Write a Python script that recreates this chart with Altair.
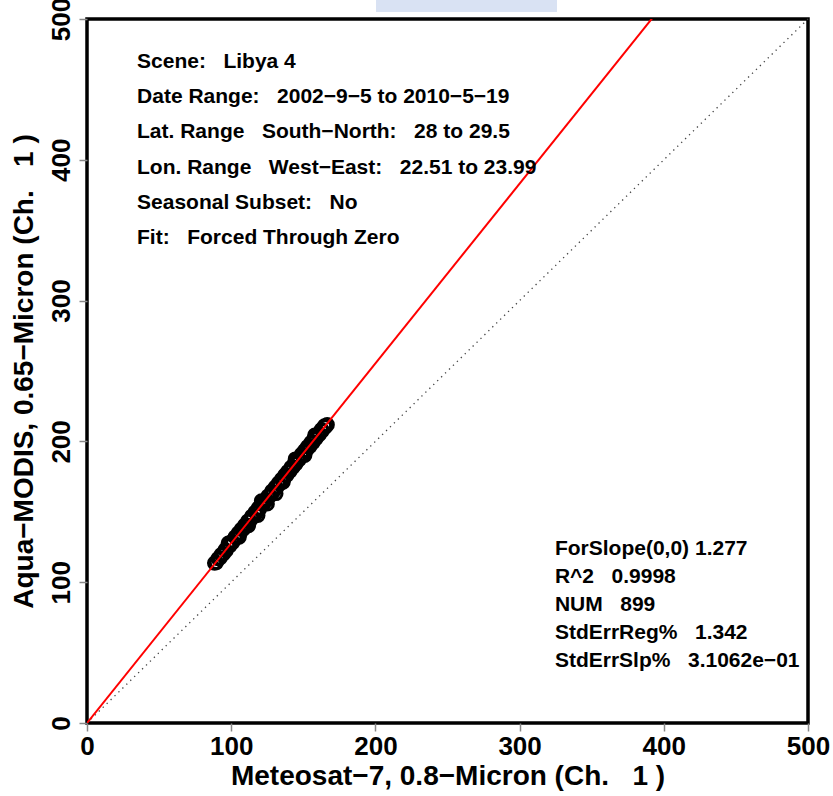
import altair as alt
import pandas as pd

# ---- data ----
meteosat = [88.5, 89.7, 90.9, 92.3, 93.1, 94.6, 95.8, 96.4, 97.9, 99.2, 100.4, 101.1,
            102.8, 103.5, 104.9, 106.2, 107.0, 108.6, 109.3, 110.8, 111.5, 112.9,
            114.2, 115.0, 116.7, 117.3, 118.8, 119.6, 121.1, 122.4, 123.0, 124.7,
            125.5, 126.9, 128.2, 129.0, 130.6, 131.4, 132.8, 133.5, 134.9, 136.3,
            137.1, 138.6, 139.2, 140.8, 141.5, 142.9, 144.1, 145.0, 146.6, 147.3,
            148.7, 149.4, 150.9, 152.2, 153.0, 154.6, 155.3, 156.8, 157.5, 158.9,
            160.2, 161.0, 162.5, 163.3, 164.7, 165.4, 166.6, 112.0, 118.5, 125.0, 131.0,
            98.0, 105.5, 121.0, 136.0, 144.5, 151.0, 158.0]
modis = [113.6, 114.0, 116.8, 117.2, 119.6, 120.1, 123.0, 122.4, 125.9, 126.0, 128.9, 128.3,
         132.1, 131.4, 134.8, 134.7, 137.5, 137.9, 140.4, 140.6, 143.3, 143.5,
         146.7, 146.0, 149.8, 149.1, 152.6, 151.8, 155.4, 155.6, 157.9, 158.3,
         161.1, 161.3, 164.6, 163.9, 167.6, 166.9, 170.4, 169.6, 173.1, 173.2,
         175.9, 176.1, 178.6, 178.9, 181.5, 181.7, 184.9, 184.3, 188.0, 187.3,
         190.7, 189.9, 193.5, 193.6, 196.2, 196.5, 199.2, 199.4, 202.0, 202.1,
         205.4, 204.8, 208.3, 207.7, 211.0, 210.4, 211.9, 140.2, 147.5, 155.6, 163.0,
         127.8, 132.0, 157.8, 171.0, 187.5, 190.0, 204.5]

slope = 1.277
line_x = [0, 500]

SP2 = "\u00a0\u00a0 "   # the wide double gap used in the reference
info_lines = ["Scene:" + SP2 + "Libya 4",
              "Date Range:" + SP2 + "2002\u22129\u22125 to 2010\u22125\u221219",
              "Lat. Range" + SP2 + "South\u2212North:" + SP2 + "28 to 29.5",
              "Lon. Range" + SP2 + "West\u2212East:" + SP2 + "22.51 to 23.99",
              "Seasonal Subset:" + SP2 + "No",
              "Fit:" + SP2 + "Forced Through Zero"]
stat_lines = ["ForSlope(0,0) 1.277",
              "R^2" + SP2 + "0.9998",
              "NUM" + SP2 + "899",
              "StdErrReg%" + SP2 + "1.342",
              "StdErrSlp%" + SP2 + "3.1062e\u221201"]

ticks = [0, 100, 200, 300, 400, 500]
x_title = "Meteosat\u22127, 0.8\u2212Micron (Ch.\u00a0\u00a0\u00a01 )"
y_title = "Aqua\u2212MODIS, 0.65\u2212Micron (Ch.\u00a0\u00a0\u00a01 )"

# ---- tables ----
pts = pd.DataFrame({"x": meteosat, "y": modis})
fit = pd.DataFrame({"x": line_x, "y": [slope * v for v in line_x]})
one = pd.DataFrame({"x": line_x, "y": line_x})
info = pd.DataFrame({"t": info_lines, "x": 34.7,
                     "y": [469.5 - i * 25.0 for i in range(len(info_lines))]})
stats = pd.DataFrame({"t": stat_lines, "x": 324.5,
                      "y": [123.6 - i * 19.9 for i in range(len(stat_lines))]})

FONT = "Liberation Sans"
xs = alt.Scale(domain=[0, 500], nice=False, zero=False)
ys = alt.Scale(domain=[0, 500], nice=False, zero=False)

xax = alt.Axis(values=ticks, title=x_title,
               labelFlush=False, labelOverlap=False, titlePadding=3, labelPadding=2)
yax = alt.Axis(values=ticks, title=y_title,
               labelAngle=270, labelAlign="center", labelBaseline="bottom",
               labelFlush=False, labelOverlap=False, labelPadding=5, titlePadding=10)

points = alt.Chart(pts).mark_point(shape="circle", filled=False, size=150,
                                   strokeWidth=3, color="black", opacity=1).encode(
    x=alt.X("x:Q", scale=xs, axis=xax),
    y=alt.Y("y:Q", scale=ys, axis=yax))

fit_line = alt.Chart(fit).mark_line(color="#ff0000", strokeWidth=2, clip=True).encode(
    x=alt.X("x:Q", scale=xs), y=alt.Y("y:Q", scale=ys))

one_line = alt.Chart(one).mark_line(color="#444444", strokeWidth=1.3,
                                    strokeDash=[1.3, 4.2]).encode(
    x=alt.X("x:Q", scale=xs), y=alt.Y("y:Q", scale=ys))

info_txt = alt.Chart(info).mark_text(align="left", baseline="middle", font=FONT,
                                     fontWeight="bold", fontSize=21, color="black").encode(
    x=alt.X("x:Q", scale=xs), y=alt.Y("y:Q", scale=ys), text="t:N")

stats_txt = alt.Chart(stats).mark_text(align="left", baseline="middle", font=FONT,
                                       fontWeight="bold", fontSize=21, color="black").encode(
    x=alt.X("x:Q", scale=xs), y=alt.Y("y:Q", scale=ys), text="t:N")

banner = alt.Chart(pd.DataFrame({"a": [0]})).mark_rect(color="#d9e2f3").encode(
    x=alt.value(289), x2=alt.value(470), y=alt.value(-19), y2=alt.value(-7))

chart = alt.layer(one_line, points, fit_line, info_txt, stats_txt, banner).properties(
    width=721, height=704,
    autosize=alt.AutoSizeParams(type="none"),
    padding={"left": 87, "top": 19, "right": 25, "bottom": 73},
).configure(background="white").configure_view(
    stroke="black", strokeWidth=3.5
).configure_axis(
    grid=False, domain=False, tickColor="#888888", tickSize=8, tickWidth=1.5,
    labelFont=FONT, labelFontWeight="bold", labelFontSize=26, labelColor="black",
    titleFont=FONT, titleFontWeight="bold", titleFontSize=28, titleColor="black",
)

chart.save("out.html", embed_options={"renderer": "svg", "actions": False})
